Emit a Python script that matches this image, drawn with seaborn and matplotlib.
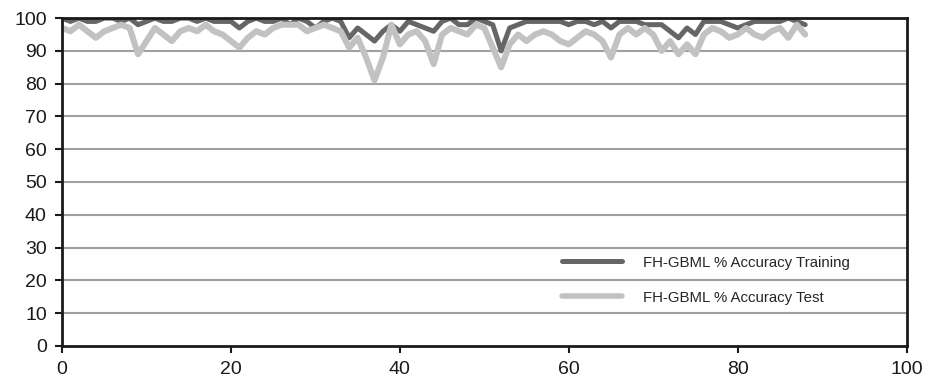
import matplotlib
matplotlib.use("Agg")
import matplotlib.pyplot as plt
import seaborn as sns
import pandas as pd
import numpy as np

sns.set_theme(style="white")
plt.rcParams['font.family'] = ['Liberation Sans', 'DejaVu Sans']

run = list(range(0, 89))
train_acc = [100, 99, 100, 99, 99, 100, 100, 99, 100, 98,
             99, 100, 99, 99, 100, 100, 99, 100, 99, 99,
             99, 97, 99, 100, 99, 99, 100, 98, 100, 99,
             97, 99, 100, 99, 94, 97, 95, 93, 96, 98,
             96, 99, 98, 97, 96, 99, 100, 98, 98, 100,
             99, 98, 90, 97, 98, 99, 99, 99, 99, 99,
             98, 99, 99, 98, 99, 97, 99, 99, 99, 98,
             98, 98, 96, 94, 97, 95, 99, 99, 99, 98,
             97, 98, 99, 99, 99, 99, 100, 99, 98]
test_acc = [97, 96, 98, 96, 94, 96, 97, 98, 97, 89,
            93, 97, 95, 93, 96, 97, 96, 98, 96, 95,
            93, 91, 94, 96, 95, 97, 98, 98, 98, 96,
            97, 98, 97, 96, 91, 94, 88, 81, 88, 98,
            92, 95, 96, 93, 86, 95, 97, 96, 95, 98,
            97, 91, 85, 92, 95, 93, 95, 96, 95, 93,
            92, 94, 96, 95, 93, 88, 95, 97, 95, 97,
            95, 90, 93, 89, 92, 89, 95, 97, 96, 94,
            95, 97, 95, 94, 96, 97, 94, 98, 95]

labels = ["FH-GBML % Accuracy Training", "FH-GBML % Accuracy Test"]
x_ticks = [0, 20, 40, 60, 80, 100]
y_ticks = list(range(0, 101, 10))

df = pd.DataFrame({"run": run * 2,
                   "acc": train_acc + test_acc,
                   "series": [labels[0]] * len(run) + [labels[1]] * len(run)})

fig = plt.figure(figsize=(9.26, 3.86), dpi=100)
ax = fig.add_axes([0.067, 0.104, 0.912, 0.849])

for y in y_ticks[1:]:
    ax.axhline(y, color="#a0a0a0", lw=1.5, zorder=0)

sns.lineplot(data=df, x="run", y="acc", hue="series",
             palette={labels[0]: "#666666", labels[1]: "#c2c2c2"},
             hue_order=[labels[0], labels[1]],
             size="series", sizes={labels[0]: 3.6, labels[1]: 4.4},
             ax=ax, legend=False, sort=False)
for line in ax.lines:
    line.set_solid_joinstyle("round")
    line.set_solid_capstyle("round")

ax.set_xlim(0, 100)
ax.set_ylim(0, 100)
ax.set_xticks(x_ticks)
ax.set_yticks(y_ticks)
ax.tick_params(axis="both", direction="out", length=5, width=1.5,
               color="#1a1a1a", labelsize=14, labelcolor="#1a1a1a", pad=6,
               bottom=True, left=True)
ax.set_xlabel("")
ax.set_ylabel("")
for s in ax.spines.values():
    s.set_color("#1a1a1a")
    s.set_linewidth(2)

from matplotlib.lines import Line2D
handles = [Line2D([], [], color="#666666", lw=3.6),
           Line2D([], [], color="#c2c2c2", lw=4.0)]
ax.legend(handles, labels, loc="upper left", bbox_to_anchor=(0.592, 0.275),
          frameon=False, fontsize=10.8, handlelength=4.0, handletextpad=1.4,
          labelspacing=1.4, borderpad=0, borderaxespad=0)

fig.savefig("out.png", dpi=100)
